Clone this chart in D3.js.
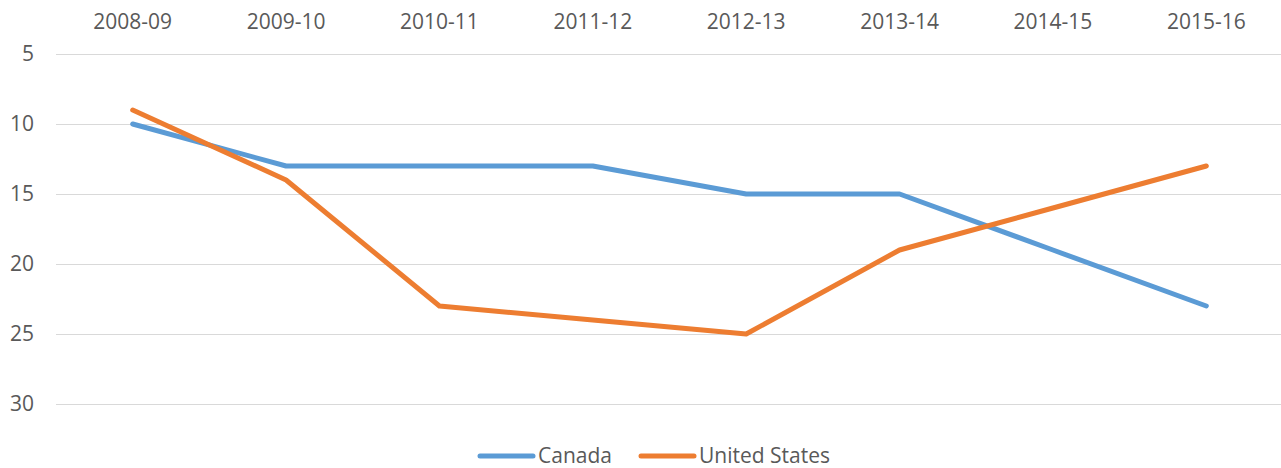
<!DOCTYPE html>
<html>
<head>
<meta charset="utf-8">
<script src="https://cdn.jsdelivr.net/npm/d3@7"></script>
<style>
  body { margin: 0; background: #fff; }
  text { font-family: "Open Sans", sans-serif; fill: #595959; }
</style>
</head>
<body>
<div id="chart"></div>
<script>
// Data
var seasons = ["2008-09", "2009-10", "2010-11", "2011-12", "2012-13", "2013-14", "2014-15", "2015-16"];
var canada = [10, 13, 13, 13, 15, 15, 19, 23];
var unitedStates = [9, 14, 23, 24, 25, 19, 16, 13];
var yTicks = [5, 10, 15, 20, 25, 30];
var seriesNames = ["Canada", "United States"];

var width = 1281, height = 468;
var margin = {top: 54, right: -2, bottom: 64, left: 56};

var svg = d3.select("#chart")
    .append("svg")
        .attr("width", width)
        .attr("height", height);

var xScale = d3.scaleBand()
    .domain(seasons)
    .range([margin.left, width - margin.right]);

// reversed axis: 5 at top, 30 at bottom
var yScale = d3.scaleLinear()
    .domain([5, 30])
    .range([margin.top, height - margin.bottom]);

// gridlines
svg.append("g")
    .selectAll("line")
    .data(yTicks)
    .enter()
    .append("line")
        .attr("x1", margin.left)
        .attr("x2", width)
        .attr("y1", d => Math.round(yScale(d)) + 0.5)
        .attr("y2", d => Math.round(yScale(d)) + 0.5)
        .attr("stroke", "#d9d9d9")
        .attr("stroke-width", 1);

// y labels
svg.append("g")
    .selectAll("text")
    .data(yTicks)
    .enter()
    .append("text")
        .attr("x", 34)
        .attr("y", d => yScale(d))
        .attr("dy", "0.35em")
        .attr("text-anchor", "end")
        .attr("font-size", "21px")
        .text(d => d);

// x labels at top
var xAxis = svg.append("g")
    .attr("transform", "translate(0,22)")
    .call(d3.axisTop(xScale).tickSize(0).tickPadding(0));
xAxis.select(".domain").remove();
xAxis.selectAll("text")
    .attr("dy", "0.35em")
    .attr("font-size", "21px")
    .attr("fill", "#595959")
    .style("font-family", "'Open Sans', sans-serif");

var line = d3.line()
    .x((d, i) => xScale(seasons[i]) + xScale.bandwidth() / 2)
    .y(d => yScale(d));

var colors = ["#5b9bd5", "#ed7d31"];
[canada, unitedStates].forEach(function(values, k) {
    svg.append("path")
        .datum(values)
        .attr("fill", "none")
        .attr("stroke", colors[k])
        .attr("stroke-width", 5)
        .attr("stroke-linejoin", "round")
        .attr("stroke-linecap", "round")
        .attr("d", line);
});

// legend
var legendX = [480, 641];
var legend = svg.append("g")
    .selectAll("g")
    .data(seriesNames)
    .enter()
    .append("g")
        .attr("transform", (d, i) => "translate(" + legendX[i] + ",456)");
legend.append("line")
    .attr("x1", 0)
    .attr("x2", 53)
    .attr("stroke", (d, i) => colors[i])
    .attr("stroke-width", 5)
    .attr("stroke-linecap", "round");
legend.append("text")
    .attr("x", 58)
    .attr("dy", "0.35em")
    .attr("font-size", "21px")
    .text(d => d);
</script>
</body>
</html>
